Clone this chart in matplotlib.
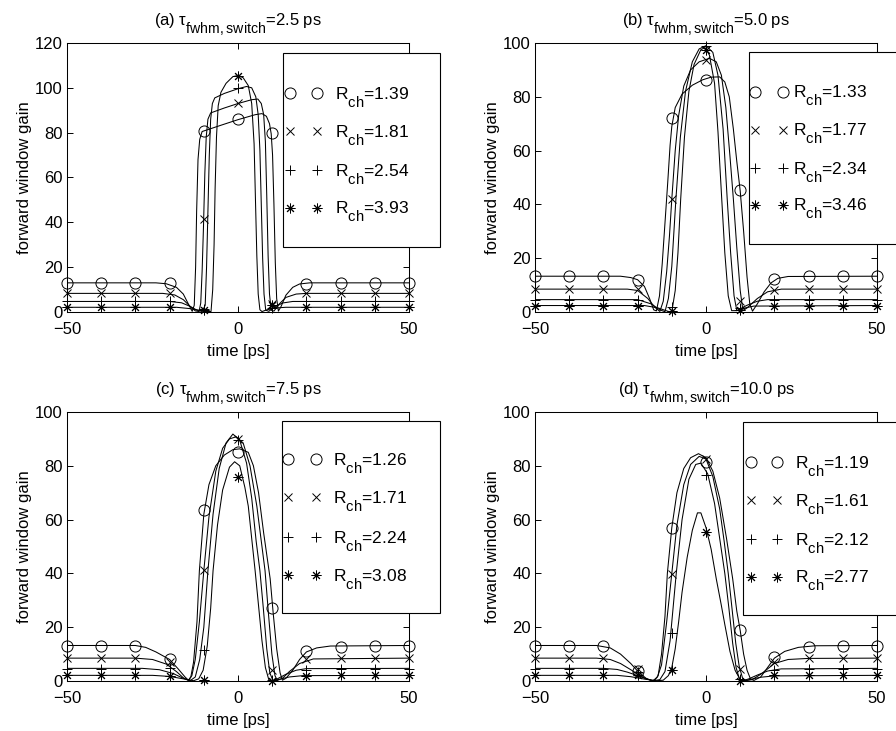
import matplotlib
matplotlib.use('Agg')
import matplotlib.pyplot as plt
import matplotlib._mathtext as mathtext_internals
from matplotlib.patches import Rectangle

# subscripts in the original are only slightly smaller than the text and sit low
mathtext_internals.SHRINK_FACTOR = 0.85
mathtext_internals.FontConstantsBase.sub1 = 0.9

plt.rcParams['font.family'] = 'Liberation Sans'
plt.rcParams['mathtext.fontset'] = 'custom'
plt.rcParams['mathtext.rm'] = 'Liberation Sans'
plt.rcParams['mathtext.it'] = 'Liberation Sans:italic'
plt.rcParams['mathtext.bf'] = 'Liberation Sans:bold'

# sample times of the markers
t_pts = [-50, -40, -30, -20, -10, 0, 10, 20, 30, 40, 50]

titles = [r'(a) $\mathrm{\tau_{fwhm,switch}}$=2.5 ps',
          r'(b) $\mathrm{\tau_{fwhm,switch}}$=5.0 ps',
          r'(c) $\mathrm{\tau_{fwhm,switch}}$=7.5 ps',
          r'(d) $\mathrm{\tau_{fwhm,switch}}$=10.0 ps']
r_ch_a = ['1.39', '1.81', '2.54', '3.93']
r_ch_b = ['1.33', '1.77', '2.34', '3.46']
r_ch_c = ['1.26', '1.71', '2.24', '3.08']
r_ch_d = ['1.19', '1.61', '2.12', '2.77']
y_max = [120, 100, 100, 100]

# ---- panel (a) ----
a_o_t = [-50, -24, -21, -18, -16, -14.5, -13.4, -12.8, -12.4, -12.1, -11.7, -11.2, -10.5, -5, 0, 5, 7, 8.3, 9.2, 9.7, 10.1, 10.5, 10.9, 11.3, 11.8, 12.6, 14, 16, 18, 21, 50]
a_o_g = [13, 13, 12.6, 11, 8, 3.5, 0.3, 3, 20, 45, 68, 77, 80.5, 83.3, 85.8, 88, 88.5, 87.3, 84, 79.5, 70, 48, 22, 6, 0.4, 2.5, 7.5, 11, 12.5, 13, 13]
a_x_t = [-50, -22, -18.5, -16, -14, -12.5, -11.4, -10.9, -10.5, -10.1, -9.7, -9.3, -8.8, -8, -4, 0, 4, 5.8, 6.8, 7.5, 8, 8.4, 8.8, 9.2, 9.7, 10.5, 12, 14, 17, 20, 50]
a_x_g = [8.3, 8.3, 7.6, 5.5, 2.5, 0.5, 0.2, 4, 18, 38, 62, 78, 86, 88.8, 91, 93, 94.7, 95, 93, 88, 76, 52, 25, 8, 0.8, 0.4, 3.5, 6.5, 8, 8.3, 8.3]
a_p_t = [-50, -20, -16.5, -14, -12, -10.5, -9.6, -9.2, -8.8, -8.4, -8, -7.5, -6.8, -4, 0, 2.5, 4, 5.2, 5.9, 6.4, 6.8, 7.2, 7.6, 8.1, 9, 10.5, 13, 16, 50]
a_p_g = [4.7, 4.7, 4.1, 2.5, 0.8, 0.2, 3, 20, 45, 70, 86, 93, 95.5, 97.5, 99.6, 100.6, 100, 96, 88, 72, 48, 24, 8, 0.8, 0.3, 2, 4, 4.7, 4.7]
a_s_t = [-50, -18, -14, -11, -9, -7.9, -7.4, -7, -6.7, -6.3, -5.8, -5, -3.5, -1.5, 0, 1.5, 3, 4, 4.7, 5.1, 5.5, 5.9, 6.4, 7, 8.5, 11, 14, 50]
a_s_g = [2.1, 2.1, 1.5, 0.7, 0.2, 0.2, 10, 30, 55, 78, 92, 98, 102, 105, 105.5, 104.5, 101, 93, 75, 50, 25, 8, 1, 0.2, 1, 1.8, 2.1, 2.1]
a_o_pts = [13, 13, 13, 13, 80.6, 86.2, 79.8, 12.6, 13, 13, 13]
a_x_pts = [8.3, 8.3, 8.3, 8.3, 41.6, 93.4, 3.5, 8.3, 8.3, 8.3, 8.3]
a_p_pts = [4.7, 4.7, 4.7, 4.7, 1.2, 99.9, 2.0, 4.7, 4.7, 4.7, 4.7]
a_s_pts = [2.1, 2.1, 2.1, 2.1, 1.0, 105.4, 3.0, 2.1, 2.1, 2.1, 2.1]

# ---- panel (b) ----
b_o_t = [-50, -25, -22, -20, -18, -16.5, -15.3, -14.5, -13.6, -12.8, -12, -11.2, -10.5, -10, -9, -7, -4, -1, 1.5, 4, 5.5, 6.8, 8, 9, 10, 11, 12, 12.8, 13.6, 15, 17, 19, 21, 24, 50]
b_o_g = [13.3, 13.3, 12.8, 12, 9.5, 5, 0.8, 0.4, 6, 18, 33, 48, 62, 69, 76, 81, 84.3, 86.3, 87.3, 87.4, 85.5, 80, 68, 56, 45, 30, 13, 3, 0.3, 3, 7.5, 10.8, 12.5, 13.2, 13.3]
b_x_t = [-50, -23, -20, -17, -15, -13.5, -12.5, -11.5, -10.7, -10, -9, -8, -6.5, -4.5, -2, 1, 3, 4.5, 5.8, 7, 8, 9, 10, 10.8, 12, 15, 18, 22, 50]
b_x_g = [8.5, 8.5, 8, 5, 1.8, 0.2, 4, 15, 28, 42, 60, 73, 84, 90, 93, 94.3, 93, 88, 76, 58, 42, 24, 8, 0.5, 1.5, 5, 7.5, 8.5, 8.5]
b_p_t = [-50, -20, -16, -13.5, -12, -11, -10, -8.8, -7.5, -6, -4, -2, 0, 2, 3.5, 5, 6.2, 7.2, 8.2, 9, 10, 12, 15, 18, 50]
b_p_g = [4.6, 4.6, 3, 0.8, 0.1, 5, 17, 42, 65, 82, 93, 97.8, 99, 96.5, 88, 68, 42, 22, 6, 0.5, 1.2, 2.5, 4, 4.6, 4.6]
b_s_t = [-50, -18, -14, -11, -10, -9, -8.2, -7.4, -6.3, -5, -3.5, -1.5, -0.3, 1, 2.5, 3.5, 4.6, 5.5, 6.5, 7.5, 9, 11, 14, 50]
b_s_g = [2.4, 2.4, 1.5, 0.2, 0.1, 8, 22, 42, 65, 82, 92, 97.5, 98.3, 95.5, 85, 67, 42, 22, 6, 0.5, 0.5, 1.4, 2.2, 2.4]
b_o_pts = [13.3, 13.3, 13.3, 12.0, 72.1, 86.4, 45.2, 12.3, 13.3, 13.3, 13.3]
b_x_pts = [8.5, 8.5, 8.5, 8.5, 42.0, 93.8, 4.0, 8.3, 8.5, 8.5, 8.5]
b_p_pts = [4.6, 4.6, 4.6, 4.6, 2.0, 98.8, 1.5, 4.6, 4.6, 4.6, 4.6]
b_s_pts = [2.4, 2.4, 2.4, 2.4, 0.3, 97.5, 0.9, 2.4, 2.4, 2.4, 2.4]

# ---- panel (c) ----
c_o_t = [-50, -30, -27, -24, -20, -17.5, -15.5, -14.5, -13.8, -13, -12, -11.3, -10, -8.5, -6.5, -4, -1.5, 0.5, 3, 4.5, 6, 7.5, 9.4, 10.3, 11.3, 12.3, 13, 14, 16, 18, 20, 23, 27, 50]
c_o_g = [13.2, 13.2, 12.5, 10.8, 8, 4.5, 1.5, 0.3, 1.5, 7, 22, 41, 62, 73, 80, 84, 86, 86.3, 85, 80, 70, 55, 38, 25, 12, 3, 0.3, 1, 4, 8, 10.8, 12.3, 13, 13.2]
c_x_t = [-50, -30, -25, -21, -18, -16, -14.5, -13.5, -12.5, -11.3, -10, -8.5, -6.5, -4.5, -2.5, -0.5, 1.5, 3.5, 5.5, 7, 7.9, 8.9, 9.9, 10.8, 11.5, 13, 15, 18, 22, 50]
c_x_g = [8.5, 8.5, 8, 6.3, 3.5, 1.2, 0.2, 2, 8, 22, 41, 61, 78, 86.5, 90, 90.8, 88.5, 80, 65, 50, 41, 25, 10, 2, 0.2, 1, 3.5, 6.5, 8.2, 8.5]
c_p_t = [-50, -28, -23, -19, -16, -14, -12.5, -11.2, -10, -8.8, -7.3, -5.5, -3.5, -1.5, 0.5, 2.5, 4, 5.3, 6.4, 7.4, 8.4, 9.3, 10.2, 11.5, 14, 17, 20, 50]
c_p_g = [4.7, 4.7, 4.2, 2.8, 1, 0.1, 1.5, 8, 20, 41, 62, 79, 88.5, 91.8, 89.5, 81, 68, 52, 41, 27, 12, 3, 0.2, 0.8, 2.5, 4, 4.6, 4.7]
c_s_t = [-50, -25, -20, -16, -13, -11.5, -10.2, -9, -8, -7.3, -6, -4.5, -2.5, -1, 0.5, 2, 3, 4, 5, 6, 7, 8, 9, 10, 12, 15, 19, 50]
c_s_g = [2.1, 2.1, 1.7, 0.8, 0.1, 0.8, 4, 13, 27, 41, 58, 71, 79.5, 81.5, 80, 72, 65, 53, 41, 28, 15, 5, 0.5, 0.1, 0.6, 1.5, 2, 2.1]
c_o_pts = [13.1, 13.1, 13.1, 8.1, 63.7, 85.1, 27.1, 11.0, 12.6, 13.1, 13.1]
c_x_pts = [8.5, 8.5, 8.5, 7.0, 41.1, 90.1, 4.0, 8.0, 8.5, 8.5, 8.5]
c_p_pts = [4.6, 4.6, 4.6, 5.0, 11.4, 89.6, 0.2, 4.0, 4.6, 4.6, 4.6]
c_s_pts = [2.1, 2.1, 2.1, 1.8, 0.5, 75.8, 0.1, 2.0, 2.1, 2.1, 2.1]

# ---- panel (d) ----
d_o_t = [-50, -32, -28, -25, -22, -19.5, -17.5, -16, -15, -14, -13, -12, -11.3, -10, -8.5, -6.5, -4.5, -2.2, 0, 2, 4, 6, 7.8, 9, 10, 11, 12, 13, 14, 16, 18, 20, 23, 27, 32, 50]
d_o_g = [13.2, 13.2, 12.3, 10, 6.5, 3, 1, 0.2, 0.3, 2, 10, 24, 40, 57, 70, 79, 83, 84.5, 83, 78, 68, 53, 38, 26, 18.8, 10, 4, 0.8, 0.2, 1.5, 5, 8.5, 11, 12.5, 13.1, 13.2]
d_x_t = [-50, -32, -28, -25, -22, -19.5, -17.5, -15.5, -14.2, -13, -11.5, -10, -8.5, -6.5, -4.5, -2, 0, 2, 4, 5.3, 6.5, 7.6, 8.7, 9.7, 10.7, 11.5, 13.5, 16, 18, 20, 24, 30, 50]
d_x_g = [8.5, 8.5, 8, 6.5, 4.2, 2.2, 0.8, 0.1, 1.5, 6, 22, 40, 58, 73, 80.5, 83.5, 82.5, 76, 64, 52, 40, 27, 14, 5.5, 1, 0.1, 0.5, 2.5, 4.5, 6.5, 8, 8.4, 8.5]
d_p_t = [-50, -30, -26, -23, -20, -17.5, -15.5, -13.5, -12, -10.5, -8.7, -7, -5, -3, -1.5, 0.5, 2.5, 4, 5.5, 6.7, 7.8, 8.8, 9.8, 10.8, 12.5, 15, 18, 22, 50]
d_p_g = [4.7, 4.7, 4.3, 3.3, 2, 0.8, 0.1, 0.5, 3.5, 15, 40, 60, 75, 80.5, 81, 77, 66, 53, 40, 27, 14, 5, 0.6, 0.1, 0.8, 2.2, 3.7, 4.5, 4.7]
d_s_t = [-50, -26, -22, -18, -14.5, -12.5, -11, -10, -9, -8, -7, -5.5, -4, -2.5, -1.5, 0, 1.5, 3, 4.5, 5.5, 7, 8.5, 10, 11, 13, 16, 20, 50]
d_s_g = [2.1, 2.1, 1.6, 0.7, 0.1, 0.3, 2, 5, 12, 22, 33, 46, 56, 62.5, 62.5, 57, 49, 38, 28, 21, 11, 4, 0.5, 0.1, 0.6, 1.4, 1.9, 2.1]
d_o_pts = [13.1, 13.1, 13.1, 3.7, 57.0, 81.4, 18.8, 8.9, 12.6, 13.1, 13.1]
d_x_pts = [8.4, 8.4, 8.4, 4.6, 39.9, 82.5, 4.6, 7.0, 8.4, 8.4, 8.4]
d_p_pts = [4.6, 4.6, 4.6, 3.3, 17.8, 76.5, 0.9, 4.0, 4.6, 4.6, 4.6]
d_s_pts = [2.1, 2.1, 2.1, 2.1, 4.2, 55.4, 0.0, 2.1, 2.1, 2.1, 2.1]

panels = [
    ([(a_o_t, a_o_g), (a_x_t, a_x_g), (a_p_t, a_p_g), (a_s_t, a_s_g)],
     [a_o_pts, a_x_pts, a_p_pts, a_s_pts], r_ch_a),
    ([(b_o_t, b_o_g), (b_x_t, b_x_g), (b_p_t, b_p_g), (b_s_t, b_s_g)],
     [b_o_pts, b_x_pts, b_p_pts, b_s_pts], r_ch_b),
    ([(c_o_t, c_o_g), (c_x_t, c_x_g), (c_p_t, c_p_g), (c_s_t, c_s_g)],
     [c_o_pts, c_x_pts, c_p_pts, c_s_pts], r_ch_c),
    ([(d_o_t, d_o_g), (d_x_t, d_x_g), (d_p_t, d_p_g), (d_s_t, d_s_g)],
     [d_o_pts, d_x_pts, d_p_pts, d_s_pts], r_ch_d),
]

# marker styles: circle, cross, plus, asterisk
markers = ['o', 'x', '+', (8, 2, 0)]
msizes = [8, 5.5, 7.5, 7]

# axes positions in figure fraction and legend placement in axes fraction
axes_pos = [[0.0748, 0.5732, 0.3817, 0.368],
            [0.5971, 0.5732, 0.3817, 0.368],
            [0.0748, 0.0684, 0.3817, 0.368],
            [0.5971, 0.0684, 0.3817, 0.368]]
leg_box = [(0.632, 0.242, 1.091, 0.963),
           (0.626, 0.253, 1.20, 0.967),
           (0.629, 0.253, 1.091, 0.967),
           (0.608, 0.245, 1.20, 0.963)]
leg_rows = [[0.814, 0.673, 0.528, 0.387],
            [0.818, 0.677, 0.535, 0.398],
            [0.825, 0.684, 0.535, 0.394],
            [0.814, 0.673, 0.528, 0.387]]
leg_hx = [(0.652, 0.731), (0.643, 0.725), (0.646, 0.728), (0.632, 0.708)]
leg_tx = [0.784, 0.754, 0.778, 0.760]

fig = plt.figure(figsize=(8.96, 7.31), dpi=100)

for i, (curves, pts, r_ch) in enumerate(panels):
    ax = fig.add_axes(axes_pos[i])
    for (t, g), m, ms, p in zip(curves, markers, msizes, pts):
        ax.plot(t, g, color='black', lw=0.75)
        ax.plot(t_pts, p, linestyle='none', marker=m, ms=ms, mfc='none',
                mec='black', mew=0.7, clip_on=False, zorder=3)
    ax.set_xlim(-50, 50)
    ax.set_ylim(0, y_max[i])
    ax.set_xticks([-50, 0, 50])
    ax.set_xticklabels(['\u221250', '0', '50'])
    ax.set_yticks(range(0, y_max[i] + 1, 20))
    ax.tick_params(direction='in', top=True, right=True, length=4, width=0.7,
                   labelsize=12)
    ax.tick_params(axis='x', pad=7)
    ax.tick_params(axis='y', pad=3)
    for s in ax.spines.values():
        s.set_linewidth(0.75)
    ax.set_title(titles[i], fontsize=12, pad=12)
    ax.set_xlabel('time [ps]', fontsize=12, labelpad=5)
    ax.set_ylabel('forward window gain', fontsize=12, labelpad=2)

    # legend box (drawn by hand, MATLAB style with two markers per entry)
    x0, y0, x1, y1 = leg_box[i]
    ax.add_patch(Rectangle((x0, y0), x1 - x0, y1 - y0, transform=ax.transAxes,
                           facecolor='white', edgecolor='black', lw=0.8,
                           clip_on=False, zorder=5))
    for y, m, ms, r in zip(leg_rows[i], markers, msizes, r_ch):
        ax.plot(leg_hx[i], [y, y], linestyle='none', marker=m, ms=ms, mfc='none',
                mec='black', mew=0.7, transform=ax.transAxes, clip_on=False, zorder=6)
        ax.text(leg_tx[i], y - 0.024, r'$\mathrm{R_{ch}}$=' + r, transform=ax.transAxes,
                fontsize=12.5, va='baseline', ha='left', zorder=6)

fig.savefig('out.png', dpi=100)
